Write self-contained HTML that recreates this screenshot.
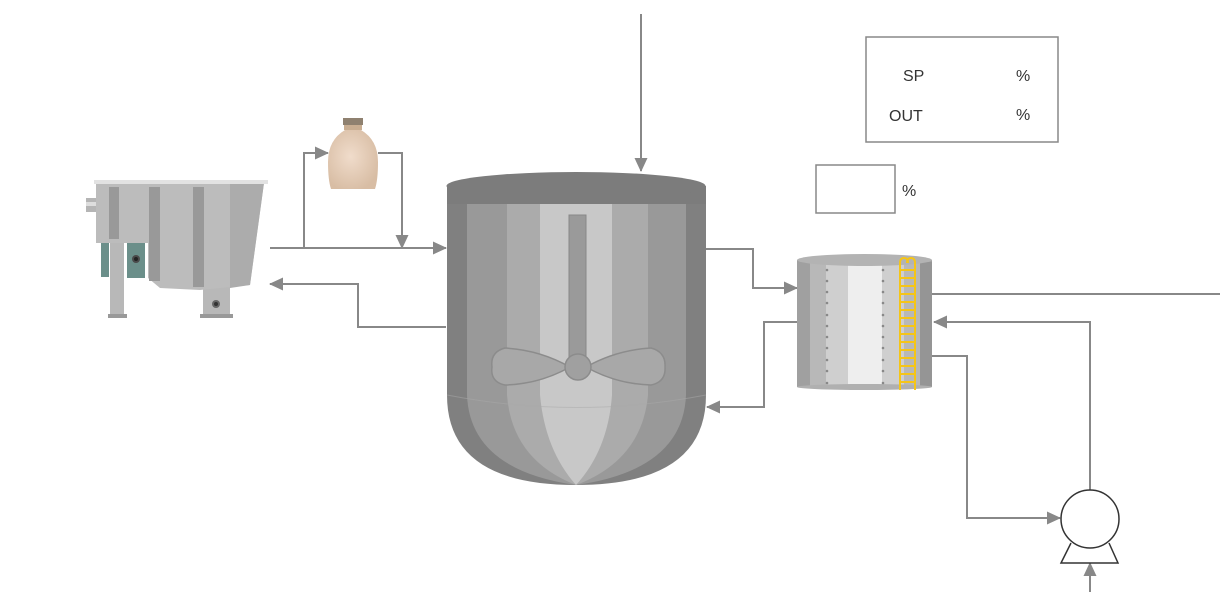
<!DOCTYPE html>
<html><head><meta charset="utf-8"><style>
html,body{margin:0;padding:0;background:#fff;}
svg{display:block;}
text{font-family:"Liberation Sans",Arial,sans-serif;fill:#333;}
</style></head><body>
<svg width="1220" height="592" viewBox="0 0 1220 592" xmlns="http://www.w3.org/2000/svg">
<defs>
<marker id="ar" markerWidth="14" markerHeight="14" refX="13" refY="6.5" orient="auto" markerUnits="userSpaceOnUse">
<path d="M0,0 L14,6.5 L0,13 Z" fill="#888"/></marker>
<radialGradient id="bot" cx="0.45" cy="0.45" r="0.6"><stop offset="0" stop-color="#f0dccb"/><stop offset="1" stop-color="#d8bda4"/></radialGradient>
</defs>

<!-- connectors -->
<g fill="none" stroke="#888" stroke-width="2">
<path d="M641,14 V171" marker-end="url(#ar)"/>
<path d="M270,248 H446" marker-end="url(#ar)"/>
<path d="M304,248 V153 H328" marker-end="url(#ar)"/>
<path d="M378,153 H402 V248" marker-end="url(#ar)"/>
<path d="M446,327 H358 V284 H270" marker-end="url(#ar)"/>
<path d="M706,249 H753 V288 H797" marker-end="url(#ar)"/>
<path d="M797,322 H764 V407 H707" marker-end="url(#ar)"/>
<path d="M932,294 H1220"/>
<path d="M1090,490 V322 H934" marker-end="url(#ar)"/>
<path d="M932,356 H967 V518 H1060" marker-end="url(#ar)"/>
<path d="M1090,592 V563" marker-end="url(#ar)"/>
</g>

<!-- left vessel -->
<rect x="86" y="198" width="11" height="14" fill="#b5b5b5"/>
<rect x="86" y="202" width="11" height="4" fill="#ddd"/>
<rect x="110" y="243" width="14" height="72" fill="#b8b8b8"/>
<rect x="108" y="314" width="19" height="4" fill="#999"/>
<rect x="203" y="285" width="27" height="30" fill="#b8b8b8"/>
<rect x="200" y="314" width="33" height="4" fill="#999"/>
<circle cx="216" cy="304" r="4" fill="#666"/><circle cx="216" cy="304" r="2" fill="#333"/>
<polygon points="96,183 264,183 250,285 200,290 160,288 148,278 148,243 96,243" fill="#bcbcbc"/>
<polygon points="230,183 264,183 250,285 230,288" fill="#acacac"/>
<rect x="94" y="180" width="174" height="4" fill="#e2e2e2"/>
<rect x="101" y="243" width="8" height="34" fill="#6b8f8a"/>
<rect x="127" y="243" width="18" height="35" fill="#6b8f8a"/>
<circle cx="136" cy="259" r="4" fill="#4a4a4a"/><circle cx="136" cy="259" r="2" fill="#222"/>
<rect x="109" y="187" width="10" height="52" fill="#999"/>
<rect x="149" y="187" width="11" height="94" fill="#999"/>
<rect x="193" y="187" width="11" height="100" fill="#999"/>

<!-- bottle -->
<rect x="343" y="118" width="20" height="7" fill="#8f8170"/>
<rect x="344" y="125" width="18" height="5" fill="#c9ae92"/>
<path d="M345,130 H361 Q378,140 378,162 Q378,180 375,189 H331 Q328,180 328,162 Q328,140 345,130 Z" fill="url(#bot)"/>

<!-- main tank -->
<path d="M447,186 L447,395 Q447,485 576,485 Q706,485 706,395 L706,186 Z" fill="#808080"/>
<path d="M467,204 L467,395 Q470,470 576,485 Q683,470 686,395 L686,204 Z" fill="#999"/>
<path d="M507,204 L507,395 Q512,460 576,485 Q642,460 648,395 L648,204 Z" fill="#ababab"/>
<path d="M540,204 L540,395 Q545,450 576,485 Q608,450 612,395 L612,204 Z" fill="#c8c8c8"/>
<rect x="447" y="186" width="259" height="18" fill="#7c7c7c"/>
<ellipse cx="576" cy="186" rx="129.5" ry="14" fill="#7c7c7c"/>
<path d="M447,395 Q576,420 706,395" fill="none" stroke="#aaa" stroke-width="1" opacity="0.5"/>
<rect x="569" y="215" width="17" height="150" fill="#9a9a9a" stroke="#888" stroke-width="1"/>
<path d="M570,367 Q540,350 505,348 Q490,352 492,367 Q490,382 505,385 Q540,384 570,367 Z" fill="#a8a8a8" stroke="#8c8c8c" stroke-width="1.5"/>
<path d="M586,367 Q616,350 651,348 Q666,352 665,367 Q666,382 651,385 Q616,384 586,367 Z" fill="#a8a8a8" stroke="#8c8c8c" stroke-width="1.5"/>
<circle cx="578" cy="367" r="13" fill="#a0a0a0" stroke="#8c8c8c" stroke-width="1.5"/>

<!-- small tank -->
<rect x="797" y="260" width="135" height="127" fill="#a0a0a0"/>
<rect x="810" y="262" width="110" height="125" fill="#b8b8b8"/>
<rect x="826" y="262" width="78" height="125" fill="#cfcfcf"/>
<rect x="848" y="262" width="34" height="125" fill="#eeeeee"/>
<rect x="920" y="262" width="12" height="125" fill="#959595"/>
<ellipse cx="864.5" cy="387" rx="67.5" ry="3" fill="#b0b0b0"/>
<ellipse cx="864.5" cy="260" rx="67.5" ry="6" fill="#b3b3b3"/>
<g fill="#888">
<circle cx="827" cy="270" r="1.3"/><circle cx="827" cy="281" r="1.3"/><circle cx="827" cy="292" r="1.3"/><circle cx="827" cy="303" r="1.3"/><circle cx="827" cy="315" r="1.3"/><circle cx="827" cy="326" r="1.3"/><circle cx="827" cy="337" r="1.3"/><circle cx="827" cy="348" r="1.3"/><circle cx="827" cy="360" r="1.3"/><circle cx="827" cy="371" r="1.3"/><circle cx="827" cy="383" r="1.3"/>
<circle cx="883" cy="270" r="1.3"/><circle cx="883" cy="281" r="1.3"/><circle cx="883" cy="292" r="1.3"/><circle cx="883" cy="303" r="1.3"/><circle cx="883" cy="315" r="1.3"/><circle cx="883" cy="326" r="1.3"/><circle cx="883" cy="337" r="1.3"/><circle cx="883" cy="348" r="1.3"/><circle cx="883" cy="360" r="1.3"/><circle cx="883" cy="371" r="1.3"/><circle cx="883" cy="383" r="1.3"/>
</g>
<g stroke="#f5c518" stroke-width="2" fill="none">
<path d="M900,390 V263 Q900,258 904,258 Q908,258 908,263"/>
<path d="M915,390 V263 Q915,258 911,258 Q907,258 907,263"/>
<path d="M900,270H915M900,278H915M900,286H915M900,294H915M900,302H915M900,310H915M900,318H915M900,326H915M900,334H915M900,342H915M900,350H915M900,358H915M900,366H915M900,374H915M900,382H915"/>
</g>

<!-- pump -->
<path d="M1071,543 L1061,563 H1118 L1109,543" fill="#fff" stroke="#333" stroke-width="1.5"/>
<circle cx="1090" cy="519" r="29" fill="#fff" stroke="#333" stroke-width="1.5"/>

<!-- boxes -->
<rect x="866" y="37" width="192" height="105" fill="#fff" stroke="#888" stroke-width="1.5"/>
<text x="903" y="81" font-size="16">SP</text>
<text x="1016" y="81" font-size="16">%</text>
<text x="889" y="121" font-size="16">OUT</text>
<text x="1016" y="120" font-size="16">%</text>
<rect x="816" y="165" width="79" height="48" fill="#fff" stroke="#888" stroke-width="1.5"/>
<text x="902" y="196" font-size="16">%</text>
</svg>
</body></html>
